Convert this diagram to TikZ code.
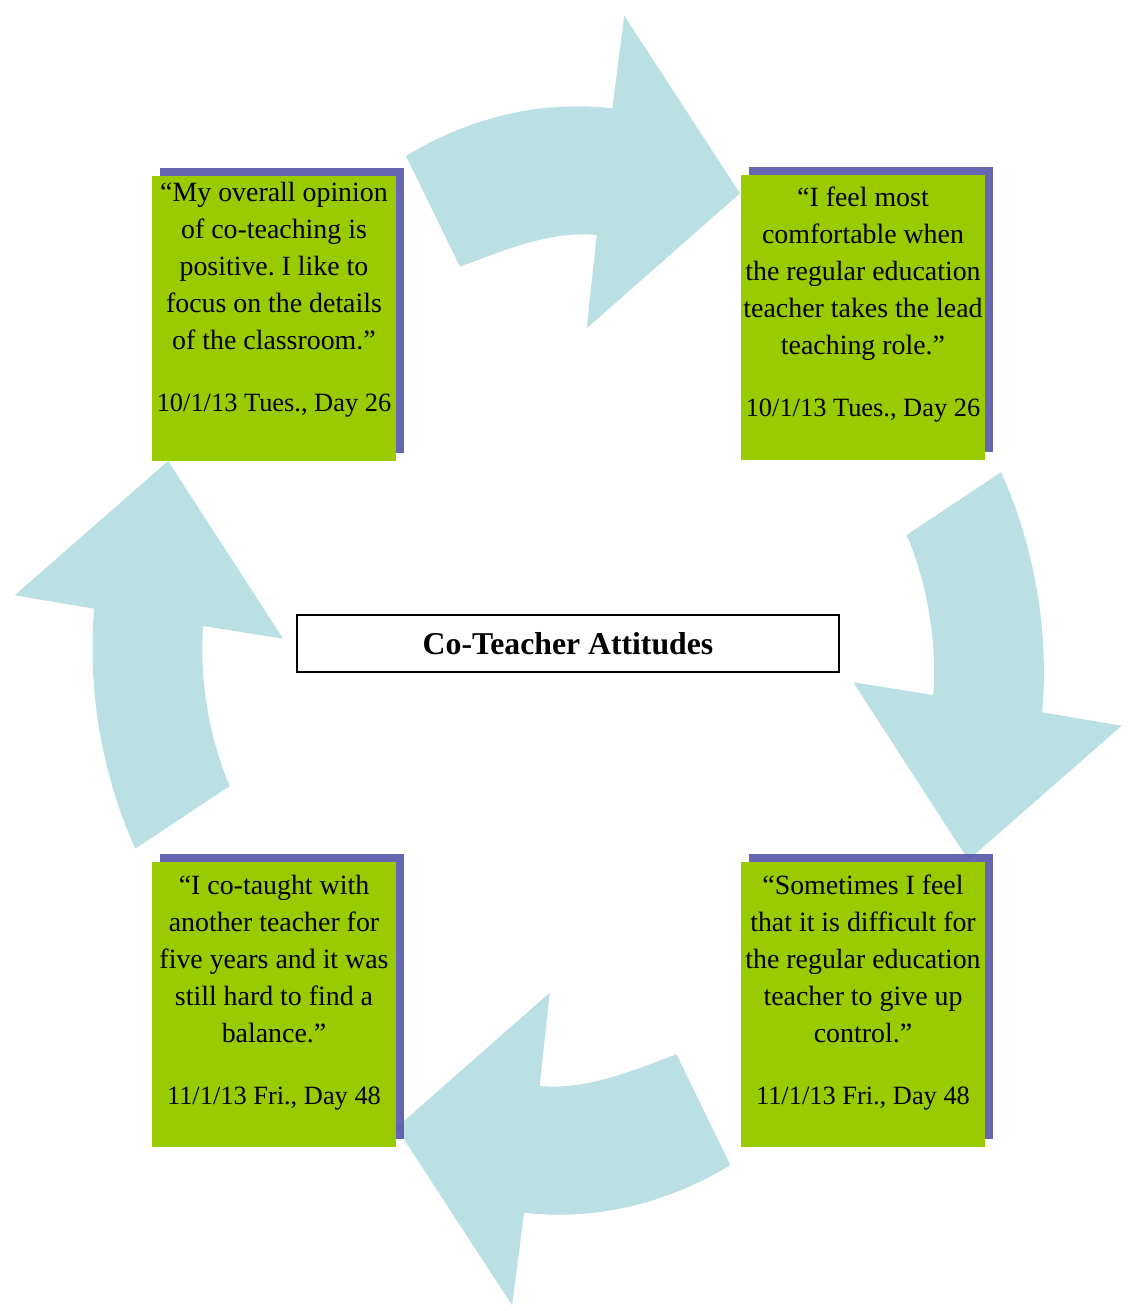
\documentclass[tikz,border=0pt]{standalone}
\usepackage{fontspec}
\setmainfont{Liberation Serif}
\usetikzlibrary{shadows}
\frenchspacing

\definecolor{quotegreen}{RGB}{153,204,0}
\definecolor{shadowblue}{RGB}{85,85,171}
\definecolor{arrowblue}{RGB}{187,224,227}

\begin{document}
\begin{tikzpicture}[x=0.75pt, y=-0.75pt,
  cyclearrow/.style={fill=arrowblue},
  quotebox/.style={rectangle, fill=quotegreen, minimum width=183pt, minimum height=213.75pt, inner sep=0pt,
    drop shadow={shadow xshift=6pt, shadow yshift=6pt, fill=shadowblue, opacity=.9}},
  quotetext/.style={anchor=north, align=center, inner sep=0pt, font=\fontsize{20.9}{27.75}\selectfont}]
  \useasboundingbox (0,0) rectangle (1128,1311);
  % Arrows
  \fill[cyclearrow] (406,156) .. controls (468,118) and (540,100) .. (612.3,108.3) -- (624.3,15.7) -- (740,193.3) -- (586.7,328.3) -- (596.7,235) .. controls (549.4,230.7) and (503.8,250.4) .. (460,266.7) -- cycle;
  \fill[cyclearrow] (1001,472.3) .. controls (1034,545) and (1049.1,628.8) .. (1042.3,712.3) -- (1121.7,725.7) -- (968.3,860) -- (853.3,682.3) -- (933.3,695) .. controls (937.1,639.6) and (927,583) .. (906.7,535) -- cycle;
  \fill[cyclearrow] (730.4,1165) .. controls (668.4,1203) and (596.4,1221) .. (524.1,1212.7) -- (512.1,1305.3) -- (396.4,1127.7) -- (549.7,992.7) -- (539.7,1086) .. controls (587,1090.3) and (632.6,1070.6) .. (676.4,1054.3) -- cycle;
  \fill[cyclearrow] (135.4,848.7) .. controls (102.4,776) and (87.3,692.2) .. (94.1,608.7) -- (14.7,595.3) -- (168.1,461) -- (283.1,638.7) -- (203.1,626) .. controls (199.3,681.4) and (209.4,738) .. (229.7,786) -- cycle;
  % Boxes
  \node[quotebox] (tl) at (274,318.5) {};
  \node[quotebox] (tr) at (863,317) {};
  \node[quotebox] (br) at (863,1004.5) {};
  \node[quotebox] (bl) at (274,1004.5) {};
  % Quotes
  \node[quotetext] (tl-txt) at (274,175.5) {\strut“My overall opinion\\of co-teaching is\\positive. I like to\\focus on the details\\of the classroom.”\\[18.9pt]{\fontsize{19.8}{27.75}\selectfont 10/1/13 Tues., Day 26}};
  \node[quotetext] (tr-txt) at (863,180.5) {\strut“I feel most\\comfortable when\\the regular education\\teacher takes the lead\\teaching role.”\\[18.9pt]{\fontsize{19.8}{27.75}\selectfont 10/1/13 Tues., Day 26}};
  \node[quotetext] (br-txt) at (863,867.9) {\strut“Sometimes I feel\\that it is difficult for\\the regular education\\teacher to give up\\control.”\\[18.9pt]{\fontsize{19.8}{27.75}\selectfont 11/1/13 Fri., Day 48}};
  \node[quotetext] (bl-txt) at (274,867.9) {\strut“I co-taught with\\another teacher for\\five years and it was\\still hard to find a\\balance.”\\[18.9pt]{\fontsize{19.8}{27.75}\selectfont 11/1/13 Fri., Day 48}};
  % Header
  \node (title) [rectangle, draw, line width=1.5pt, minimum width=406.5pt, minimum height=42.75pt, font=\fontsize{23.8}{28}\selectfont\bfseries] at (568,643.5) {Co-Teacher Attitudes};
\end{tikzpicture}
\end{document}
